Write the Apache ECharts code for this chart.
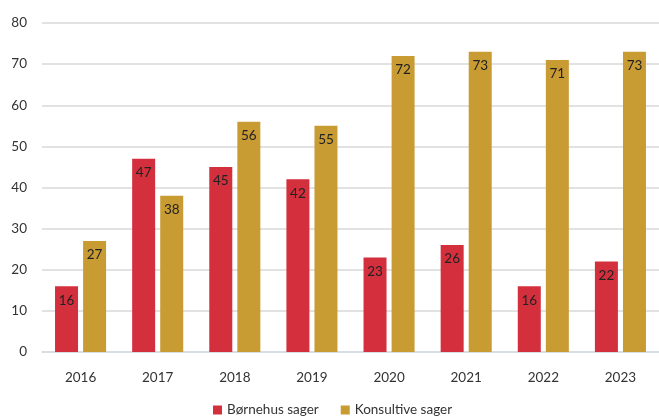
<!DOCTYPE html>
<html><head><meta charset="utf-8">
<script src="https://cdn.jsdelivr.net/npm/echarts@6/dist/echarts.min.js"></script>
<style>html,body{margin:0;padding:0;background:#fff}#c{width:659px;height:420px}</style>
</head><body><div id="c"></div>
<script>
const categories = ['2016','2017','2018','2019','2020','2021','2022','2023'];
const bornehus = [16,47,45,42,23,26,16,22];
const konsultive = [27,38,56,55,72,73,71,73];
const yTicks = [0,10,20,30,40,50,60,70,80];

const chart = echarts.init(document.getElementById('c'));
const font = 'Lato, "Open Sans", sans-serif';
const lbl = {show:true, position:'insideTop', distance:7, color:'#222', fontSize:13.5, fontFamily:font};
chart.setOption({
  animation:false,
  grid:{left:42, right:-3, top:23, bottom:68},
  legend:{bottom:-2, left:208, itemWidth:9, itemHeight:9, itemGap:22, icon:'rect',
    textStyle:{fontSize:13.5, color:'#333', fontFamily:font}},
  xAxis:{type:'category', data:categories,
    axisLine:{lineStyle:{color:'#d3dde8', width:1.5}}, axisTick:{show:false},
    axisLabel:{fontSize:13.5, color:'#333', fontFamily:font, margin:19}},
  yAxis:{type:'value', min:yTicks[0], max:yTicks[yTicks.length-1], interval:10,
    axisLabel:{fontSize:13.5, color:'#333', fontFamily:font, margin:15},
    splitLine:{lineStyle:{color:'#d9d9d9', width:1.5}}},
  series:[
    {name:'Børnehus sager', type:'bar', data:bornehus, barWidth:23, barGap:'22%',
     itemStyle:{color:'#d32f3d'}, label:lbl},
    {name:'Konsultive sager', type:'bar', data:konsultive, barWidth:23,
     itemStyle:{color:'#c99b33'}, label:lbl}
  ]
});
</script></body></html>
